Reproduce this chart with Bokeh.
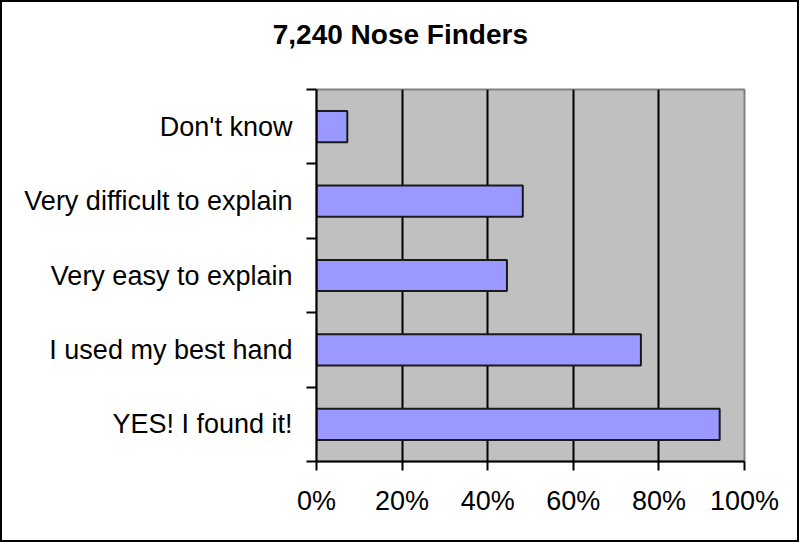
from bokeh.plotting import figure
from bokeh.models import (Range1d, LinearAxis, FixedTicker, NumeralTickFormatter)
from bokeh.embed import file_html
from bokeh.resources import INLINE

# Data (bottom to top)
categories = ["YES! I found it!", "I used my best hand", "Very easy to explain",
              "Very difficult to explain", "Don't know"]
percents = [94.2, 75.8, 44.5, 48.2, 7.2]
x_ticks = [0, 0.2, 0.4, 0.6, 0.8, 1.0]
title_text = "7,240 Nose Finders"

ypos = [i + 0.5 for i in range(len(categories))]
values = [v / 100.0 for v in percents]

FONT = "Liberation Sans"

p = figure(width=799, height=542, output_backend="svg", toolbar_location=None,
           x_range=Range1d(0, 1), y_range=Range1d(0, len(categories)),
           x_axis_location=None, y_axis_location=None,
           min_border_left=316, min_border_right=55,
           min_border_top=89, min_border_bottom=81)
p.styles = {"box-shadow": "inset 0 0 0 2px #000", "background": "white"}

p.background_fill_color = "#C0C0C0"
p.border_fill_color = None
p.outline_line_color = "#808080"
p.outline_line_width = 2

# grid
p.xgrid.ticker = FixedTicker(ticks=x_ticks)
p.xgrid.grid_line_color = "black"
p.xgrid.grid_line_width = 2
p.ygrid.grid_line_color = None

# bars
p.hbar(y=ypos, left=0, right=values, height=0.42,
       fill_color="#9999FF", line_color="#1a1a1a", line_width=2)

# x axis
xaxis = LinearAxis(ticker=FixedTicker(ticks=x_ticks),
                   formatter=NumeralTickFormatter(format="0%"))
xaxis.axis_line_color = "black"
xaxis.axis_line_width = 2
xaxis.major_tick_in = 0
xaxis.major_tick_out = 9
xaxis.major_tick_line_width = 2
xaxis.minor_tick_line_color = None
xaxis.major_label_text_font = FONT
xaxis.major_label_text_font_size = "27px"
xaxis.major_label_text_color = "black"
xaxis.major_label_standoff = 15
p.add_layout(xaxis, "below")

# y axis: labels at category centers, ticks at boundaries (minor ticks)
yaxis = LinearAxis(ticker=FixedTicker(ticks=ypos,
                                      minor_ticks=list(range(len(categories) + 1))))
yaxis.major_label_overrides = {y: c for y, c in zip(ypos, categories)}
yaxis.axis_line_color = "black"
yaxis.axis_line_width = 2
yaxis.major_tick_line_color = None
yaxis.major_tick_in = 0
yaxis.major_tick_out = 0
yaxis.minor_tick_in = 0
yaxis.minor_tick_out = 10
yaxis.minor_tick_line_color = "black"
yaxis.minor_tick_line_width = 2
yaxis.major_label_text_font = FONT
yaxis.major_label_text_font_size = "27px"
yaxis.major_label_text_color = "black"
yaxis.major_label_standoff = 14
p.add_layout(yaxis, "left")

# chart title, centred over the whole chart (placed via an above axis label)
title_x = 0.196
title_axis = LinearAxis(ticker=FixedTicker(ticks=[title_x]))
title_axis.major_label_overrides = {title_x: title_text}
title_axis.axis_line_color = None
title_axis.major_tick_line_color = None
title_axis.minor_tick_line_color = None
title_axis.major_tick_in = 0
title_axis.major_tick_out = 0
title_axis.major_label_standoff = 40
title_axis.major_label_text_font = FONT
title_axis.major_label_text_font_style = "bold"
title_axis.major_label_text_font_size = "28px"
title_axis.major_label_text_color = "black"
p.add_layout(title_axis, "above")

open("out.html", "w").write(file_html(p, INLINE))
